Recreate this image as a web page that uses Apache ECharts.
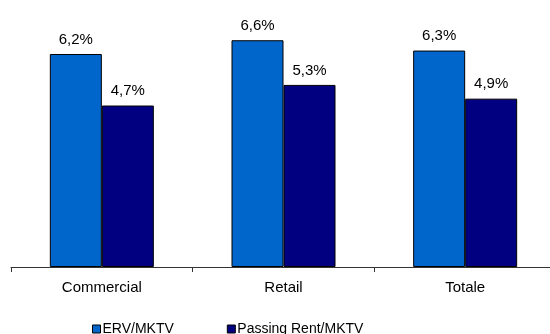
<!DOCTYPE html>
<html>
<head>
<meta charset="utf-8">
<style>
  html, body { margin: 0; padding: 0; background: #ffffff; }
  #chart { width: 550px; height: 334px; }
</style>
<script src="https://cdn.jsdelivr.net/npm/echarts@6/dist/echarts.min.js"></script>
</head>
<body>
<div id="chart"></div>
<script>
// Categories and yields (in %)
const categories = ['Commercial', 'Retail', 'Totale'];
const seriesNames = ['ERV/MKTV', 'Passing Rent/MKTV'];
const ervValues = [6.2, 6.6, 6.3];
const passingValues = [4.7, 5.3, 4.9];

const colors = ['#0066CC', '#000080'];
const fontFamily = '"Liberation Sans", Arial, sans-serif';

// Italian-style decimal comma, e.g. 6,2%
const fmt = p => p.value.toFixed(1).replace('.', ',') + '%';

function barSeries(name, data, color) {
  return {
    name: name,
    type: 'bar',
    data: data,
    barWidth: 52,
    barGap: '0%',
    itemStyle: { color: color, borderColor: '#000000', borderWidth: 1 },
    label: {
      show: true,
      position: 'top',
      distance: 7,
      formatter: fmt,
      color: '#000000',
      fontFamily: fontFamily,
      fontSize: 15
    }
  };
}

const chart = echarts.init(document.getElementById('chart'), null, { renderer: 'canvas' });
chart.setOption({
  animation: false,
  // the category axis runs slightly past the right edge of the canvas
  grid: {
    left: 11, width: 545, top: 26.5, bottom: 67,
    containLabel: false, outerBoundsMode: 'none'
  },
  legend: {
    data: seriesNames.map((n, i) => ({
      name: n,
      icon: 'rect',
      itemStyle: { color: colors[i], borderColor: '#000000', borderWidth: 1 }
    })),
    left: 92,
    top: 322,
    padding: 0,
    itemWidth: 8,
    itemHeight: 8,
    itemGap: 53,
    textStyle: { fontFamily: fontFamily, fontSize: 14, color: '#000000', padding: [0, 0, 0, -3] },
    selectedMode: false
  },
  xAxis: {
    type: 'category',
    data: categories,
    axisLine: { lineStyle: { color: '#333333', width: 1 } },
    axisTick: { show: true, length: 5, inside: false, lineStyle: { color: '#333333' } },
    axisLabel: { color: '#000000', fontFamily: fontFamily, fontSize: 15, margin: 13 }
  },
  yAxis: {
    type: 'value',
    min: 0,
    max: 7,
    show: false,
    splitLine: { show: false }
  },
  series: [
    barSeries(seriesNames[0], ervValues, colors[0]),
    barSeries(seriesNames[1], passingValues, colors[1])
  ]
});
</script>
</body>
</html>
